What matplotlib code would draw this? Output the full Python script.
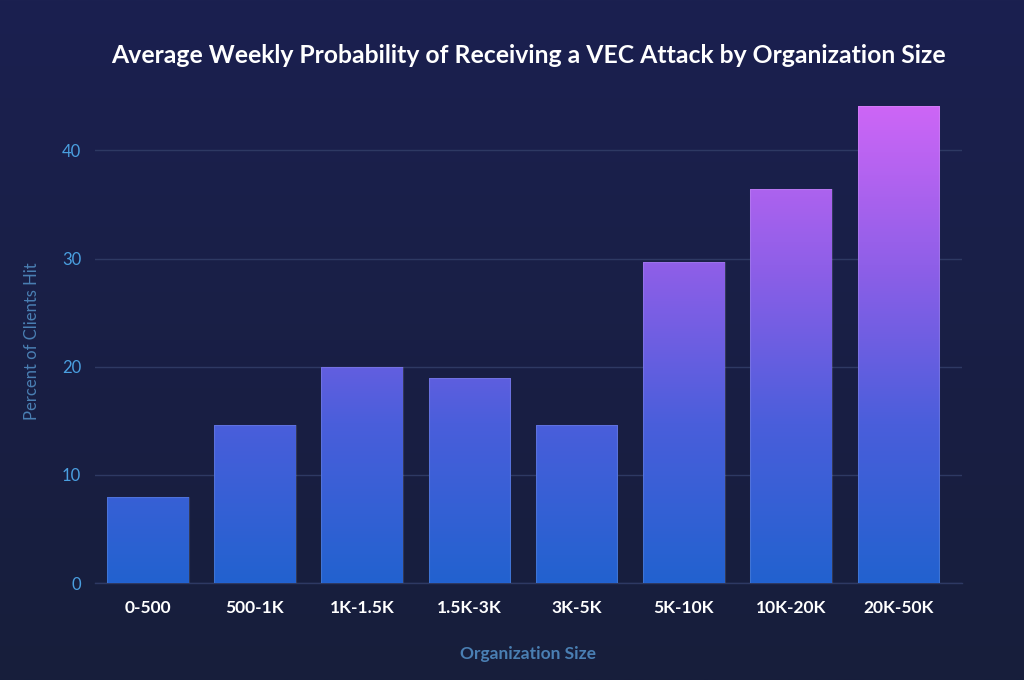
import numpy as np
import matplotlib.pyplot as plt
from matplotlib.colors import LinearSegmentedColormap
from matplotlib.patches import Rectangle

# Data
sizes = ['0-500', '500-1K', '1K-1.5K', '1.5K-3K', '3K-5K', '5K-10K', '10K-20K', '20K-50K']
pct_hit = [8.0, 14.6, 20.0, 19.0, 14.6, 29.7, 36.4, 44.1]
y_ticks = [0, 10, 20, 30, 40]

plt.rcParams['font.family'] = ['Lato', 'DejaVu Sans']

fig = plt.figure(figsize=(10.24, 6.8), dpi=100)

# Background gradient over the whole figure
bg = fig.add_axes([0, 0, 1, 1], zorder=-10)
bg_cmap = LinearSegmentedColormap.from_list('bg', ['#171e3b', '#1b2050'])
bg.imshow(np.linspace(0, 1, 256).reshape(-1, 1), aspect='auto', cmap=bg_cmap,
          extent=[0, 1, 0, 1], origin='lower')
bg.axis('off')

ax = fig.add_axes([0.093, 0.1426, 0.846, 0.711])
ax.patch.set_alpha(0)

x = np.arange(len(sizes))
bar_width = 0.76
y_top = 44.7

# Bars with a gradient tied to the y value
bar_cmap = LinearSegmentedColormap.from_list('bars', ['#2262cf', '#4a5edb', '#8f5fe8', '#cd66f6'])
grad = np.linspace(0, 1, 256).reshape(-1, 1)
bars = ax.bar(x, pct_hit, bar_width, color='none', edgecolor='none', zorder=3)
for b in bars:
    bx, by = b.get_x(), b.get_y()
    w, h = b.get_width(), b.get_height()
    im = ax.imshow(grad, aspect='auto', cmap=bar_cmap, origin='lower',
                   extent=[bx, bx + w, 0, max(pct_hit)], vmin=0, vmax=1, zorder=3)
    clip = Rectangle((bx, by), w, h, transform=ax.transData)
    im.set_clip_path(clip)
    ax.add_patch(Rectangle((bx, by), w, h, facecolor='none',
                           edgecolor=(1, 1, 1, 0.12), linewidth=0.8, zorder=4))

ax.set_xlim(-0.49, 7.59)
ax.set_ylim(0, y_top)

ax.set_yticks(y_ticks)
ax.set_xticks(x)
ax.set_xticklabels(sizes, color='white', fontsize=12.5, fontweight='bold')
ax.tick_params(axis='y', colors='#4a9fe0', labelsize=12, length=0, pad=10)
ax.tick_params(axis='x', length=0, pad=12)

ax.grid(axis='y', color='#2e3963', linewidth=1, zorder=0)
for s in ['top', 'right', 'left']:
    ax.spines[s].set_visible(False)
ax.spines['bottom'].set_color('#2e3963')
ax.spines['bottom'].set_linewidth(1)

ax.set_ylabel('Percent of Clients Hit', color='#4a7fb3', fontsize=12, labelpad=16)
ax.set_xlabel('Organization Size', color='#4a7fb3', fontsize=12.5, fontweight='bold', labelpad=22)

fig.text(0.516, 0.918, 'Average Weekly Probability of Receiving a VEC Attack by Organization Size',
         color='white', fontsize=17.8, fontweight='bold', ha='center', va='center')

fig.savefig('out.png', dpi=100)
